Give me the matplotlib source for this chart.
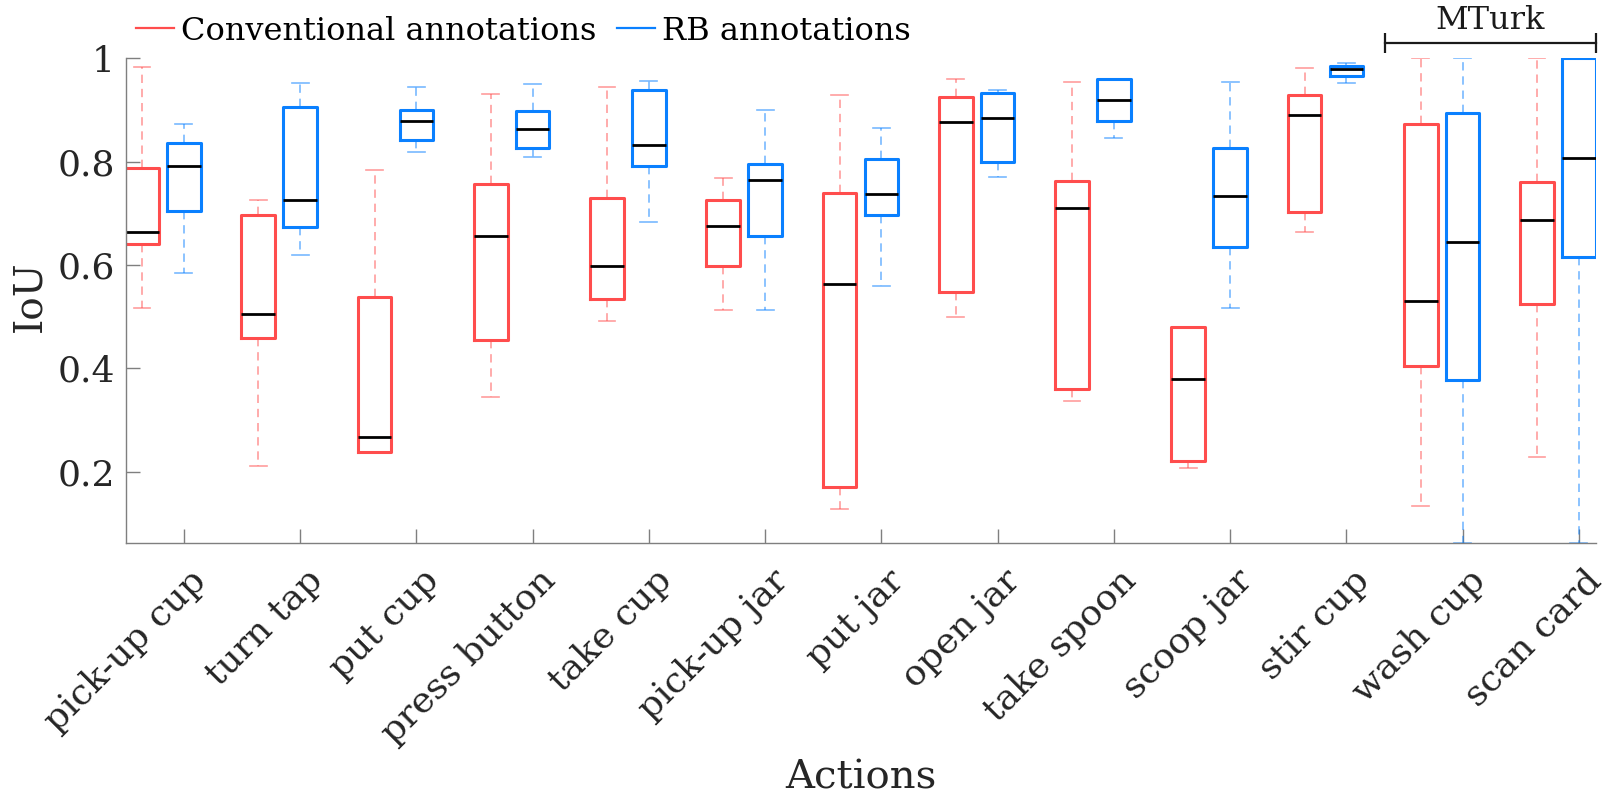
import matplotlib
matplotlib.use("Agg")
import matplotlib.pyplot as plt
from matplotlib.lines import Line2D
from matplotlib.transforms import ScaledTranslation

plt.rcParams['font.family'] = ['DejaVu Serif']

actions = ['pick-up cup', 'turn tap', 'put cup', 'press button', 'take cup',
           'pick-up jar', 'put jar', 'open jar', 'take spoon', 'scoop jar',
           'stir cup', 'wash cup', 'scan card']

# Conventional annotations (red)
conv_whislo = [0.516, 0.210, 0.235, 0.344, 0.492, 0.512, 0.127, 0.500, 0.336, 0.206, 0.664, 0.133, 0.229]
conv_q1     = [0.640, 0.459, 0.237, 0.454, 0.535, 0.599, 0.170, 0.548, 0.360, 0.221, 0.703, 0.404, 0.524]
conv_med    = [0.663, 0.506, 0.267, 0.656, 0.598, 0.675, 0.564, 0.876, 0.710, 0.380, 0.891, 0.531, 0.687]
conv_q3     = [0.788, 0.697, 0.539, 0.757, 0.730, 0.725, 0.740, 0.925, 0.762, 0.479, 0.929, 0.873, 0.761]
conv_whishi = [0.983, 0.726, 0.784, 0.932, 0.944, 0.768, 0.929, 0.961, 0.954, 0.479, 0.981, 1.000, 1.000]

# RB annotations (blue)
rb_whislo = [0.584, 0.619, 0.818, 0.809, 0.684, 0.512, 0.560, 0.771, 0.846, 0.516, 0.952, 0.062, 0.062]
rb_q1     = [0.704, 0.674, 0.843, 0.827, 0.792, 0.656, 0.696, 0.799, 0.879, 0.635, 0.966, 0.378, 0.616]
rb_med    = [0.792, 0.725, 0.879, 0.864, 0.832, 0.764, 0.737, 0.885, 0.920, 0.733, 0.980, 0.644, 0.807]
rb_q3     = [0.837, 0.905, 0.901, 0.899, 0.938, 0.795, 0.805, 0.934, 0.961, 0.827, 0.986, 0.894, 1.000]
rb_whishi = [0.873, 0.952, 0.945, 0.950, 0.957, 0.900, 0.865, 0.938, 0.961, 0.954, 0.991, 1.000, 1.000]

RED = '#ff4d4d'
BLUE = '#0a80ff'
GREY = '#7f7f7f'


def make_stats(lo, q1, med, q3, hi):
    return [dict(whislo=a, q1=b, med=c, q3=d, whishi=e, fliers=[])
            for a, b, c, d, e in zip(lo, q1, med, q3, hi)]


fig = plt.figure(figsize=(16.04, 7.94), dpi=100)
ax = fig.add_axes([0.0784, 0.316, 0.9166, 0.6104])

n = len(actions)
pos = list(range(n))
red_offset = 0.36
width = 0.29


def draw(stats, positions, color):
    ax.bxp(stats, positions=positions, widths=width, showfliers=False,
           boxprops=dict(color=color, linewidth=2.2),
           medianprops=dict(color='black', linewidth=2.0),
           whiskerprops=dict(color=color, linewidth=1.2, linestyle=(0, (5, 3.5)), alpha=0.55),
           capprops=dict(color=color, linewidth=1.2, alpha=0.55),
           capwidths=width * 0.5, manage_ticks=False)


draw(make_stats(conv_whislo, conv_q1, conv_med, conv_q3, conv_whishi),
     [p - red_offset for p in pos], RED)
draw(make_stats(rb_whislo, rb_q1, rb_med, rb_q3, rb_whishi), pos, BLUE)

ax.set_xlim(-0.5, 12.147)
ax.set_ylim(0.0615, 1.0)
ax.set_yticks([0.2, 0.4, 0.6, 0.8, 1.0])
ax.set_yticklabels(['0.2', '0.4', '0.6', '0.8', '1'])
ax.set_xticks(pos)

ax.tick_params(axis='both', direction='in', length=10, width=1.0,
               colors=GREY, labelcolor='#262626', labelsize=26)
ax.tick_params(axis='x', pad=28.5)
ax.tick_params(axis='y', pad=8)

ax.set_xticklabels(actions, rotation=45, ha='right', va='center',
                   rotation_mode='anchor')
offset = ScaledTranslation(0.17, 0.075, fig.dpi_scale_trans)
for lab in ax.get_xticklabels():
    lab.set_transform(lab.get_transform() + offset)

for s in ['top', 'right']:
    ax.spines[s].set_visible(False)
for s in ['left', 'bottom']:
    ax.spines[s].set_color(GREY)
    ax.spines[s].set_linewidth(1.0)

ax.set_ylabel('IoU', fontsize=28, color='#262626', va='center')
ax.yaxis.set_label_coords(-0.065, 0.51)
ax.set_xlabel('Actions', fontsize=29, color='#262626', va='top')
ax.xaxis.set_label_coords(0.5, -0.446)

handles = [Line2D([], [], color=RED, linewidth=1.6),
           Line2D([], [], color=BLUE, linewidth=1.6)]
fig.legend(handles, ['Conventional annotations', 'RB annotations'],
           loc='center left', bbox_to_anchor=(136 / 1604, 1 - 31 / 794),
           ncol=2, frameon=False, fontsize=23, handlelength=1.2,
           handletextpad=0.2, columnspacing=0.65, borderpad=0,
           borderaxespad=0)

# MTurk bracket
ax.plot([10.335, 12.147], [1.030, 1.030], color='#1a1a1a', linewidth=1.6,
        marker='|', markersize=15, markeredgewidth=1.6, clip_on=False)
ax.text(11.24, 1.043, 'MTurk', fontsize=23, ha='center', va='bottom',
        color='#1a1a1a')

fig.savefig('out.png', dpi=100)
